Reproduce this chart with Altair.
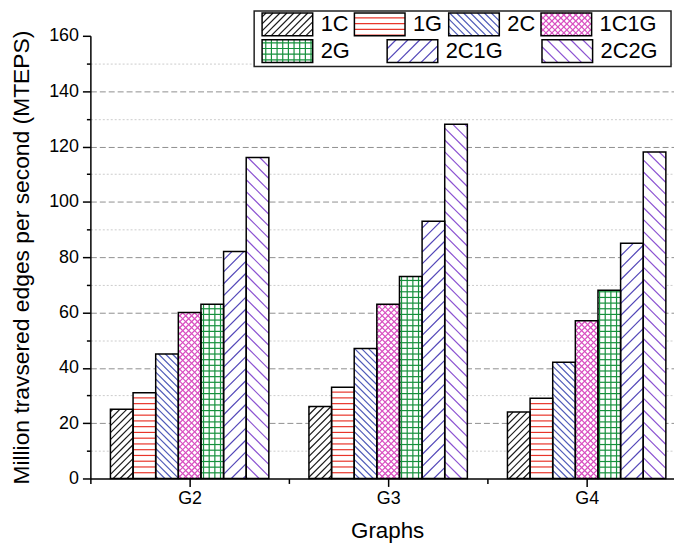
import json
import altair as alt
import numpy as np
import pandas as pd

# ---------------- data ----------------
groups = ["G2", "G3", "G4"]
series = ["1C", "1G", "2C", "1C1G", "2G", "2C1G", "2C2G"]
v_1C = [25, 26, 24]
v_1G = [31, 33, 29]
v_2C = [45, 47, 42]
v_1C1G = [60, 63, 57]
v_2G = [63, 73, 68]
v_2C1G = [82, 93, 85]
v_2C2G = [116, 128, 118]
series_values = [v_1C, v_1G, v_2C, v_1C1G, v_2G, v_2C1G, v_2C2G]

y_title = "Million travsered edges per second (MTEPS)"
x_title = "Graphs"

# ---------------- styles ----------------
series_colors = ["#1a1a1a", "#e8352a", "#4f5bb8", "#d84ec0", "#16903c", "#5246b8", "#8b52d1"]
series_pattern = ["fwd", "horiz", "back", "cross", "grid", "fwd", "back"]
series_spacing = [7, 5.8, 7, 6, 5.7, 12, 12]

FONT = "Liberation Sans"
W, H = 588, 446
XD = [0.5, 3.44]
YD = [0, 160]
KX = W / (XD[1] - XD[0])
KY = H / (YD[1] - YD[0])
BAR_W = 0.114
PLOT_LEFT, PLOT_TOP = 90, 33  # page position of plot origin (legend layout only)


def to_px(x, y):
    return (x - XD[0]) * KX, (YD[1] - y) * KY


def to_data(sx, sy):
    return XD[0] + sx / KX, YD[1] - sy / KY


def hatch_segments(x0, x1, y0, y1, kind, s):
    segs = []

    def diag(sign):
        if sign > 0:
            cmin, cmax = x0 + y0, x1 + y1
        else:
            cmin, cmax = x0 - y1, x1 - y0
        c = np.ceil(cmin / s) * s
        while c <= cmax:
            if sign > 0:
                a = max(x0, c - y1)
                b = min(x1, c - y0)
                if b - a > 0.3:
                    segs.append((a, c - a, b, c - b))
            else:
                a = max(x0, c + y0)
                b = min(x1, c + y1)
                if b - a > 0.3:
                    segs.append((a, a - c, b, b - c))
            c += s

    if kind in ("fwd", "cross"):
        diag(1)
    if kind in ("back", "cross"):
        diag(-1)
    if kind in ("horiz", "grid"):
        k = 1
        while True:
            yy = H - k * s
            if yy <= y0 + 0.5:
                break
            if yy < y1 - 0.5:
                segs.append((x0, yy, x1, yy))
            k += 1
    if kind == "grid":
        xx = np.ceil(x0 / s) * s
        while xx < x1:
            if xx > x0 + 0.5 and xx < x1 - 0.5:
                segs.append((xx, y0, xx, y1))
            xx += s
    return segs


def seg_rows(segs):
    rows = []
    for a, sa, b, sb in segs:
        xa, ya = to_data(a, sa)
        xb, yb = to_data(b, sb)
        rows.append({"x": xa, "y": ya, "x2": xb, "y2": yb})
    return rows


# legend layout (page pixels)
LEG_BOX = (255, 675, 8, 64)
LEG_ROWS = [(10, 33), (37, 60)]
LEG_ITEMS = [(263, 0), (356, 0), (451, 0), (544, 0), (263, 1), (389, 1), (545, 1)]
SW_W = 51
LABEL_GAP = 8

bar_rows, sw_rows, lab_rows = [], [], []
hatch_by_series = []
for j, s in enumerate(series):
    rows = []
    for gi, g in enumerate(groups):
        v = series_values[j][gi]
        x0 = (gi + 1) + (j - 3.5) * BAR_W
        x1 = x0 + BAR_W
        bar_rows.append({"group": g, "series": s, "x": x0, "x2": x1, "y": v, "y2": 0})
        sx0, sy0 = to_px(x0, v)
        sx1, sy1 = to_px(x1, 0)
        rows += seg_rows(hatch_segments(sx0, sx1, sy0, sy1, series_pattern[j], series_spacing[j]))
    # legend swatch
    px, row = LEG_ITEMS[j]
    top, bot = LEG_ROWS[row]
    sx0, sx1 = px - PLOT_LEFT, px + SW_W - PLOT_LEFT
    sy0, sy1 = top - PLOT_TOP, bot - PLOT_TOP
    xa, ya = to_data(sx0, sy0)
    xb, yb = to_data(sx1, sy1)
    sw_rows.append({"series": s, "x": xa, "x2": xb, "y": ya, "y2": yb})
    rows += seg_rows(hatch_segments(sx0, sx1, sy0, sy1, series_pattern[j], series_spacing[j]))
    lx, ly = to_data(sx1 + LABEL_GAP, (sy0 + sy1) / 2)
    lab_rows.append({"x": lx, "y": ly, "label": s})
    df = pd.DataFrame(rows)
    df["series"] = s
    hatch_by_series.append(df)

bars_df = pd.DataFrame(bar_rows)
sw_df = pd.DataFrame(sw_rows)
lab_df = pd.DataFrame(lab_rows)
bx0, by0 = to_data(LEG_BOX[0] - PLOT_LEFT, LEG_BOX[2] - PLOT_TOP)
bx1, by1 = to_data(LEG_BOX[1] - PLOT_LEFT, LEG_BOX[3] - PLOT_TOP)
legbox_df = pd.DataFrame([{"x": bx0, "x2": bx1, "y": by0, "y2": by1}])

# ---------------- chart ----------------
xs = alt.Scale(domain=XD, nice=False, zero=False)
ys = alt.Scale(domain=YD, nice=False, zero=False)

label_list = json.dumps(groups)
x_axis = alt.Axis(
    values=[0.5, 1, 1.5, 2, 2.5, 3],
    labelExpr=f"datum.value % 1 == 0 ? {label_list}[datum.value - 1] : ''",
    tickSize={"condition": {"test": "datum.value % 1 == 0", "value": 8}, "value": 5},
    tickColor="black", tickWidth=1.5,
    domainColor="black", domainWidth=1.5,
    grid=False, labelOverlap=False, labelFlush=False,
    labelFont=FONT, labelFontSize=18, labelColor="black", labelPadding=3,
    title=x_title, titleFont=FONT, titleFontSize=22.5, titleFontWeight="normal",
    titleColor="black", titlePadding=12, titleX=299,
)
y_axis = alt.Axis(
    values=list(range(0, 161, 10)),
    labelExpr="datum.value % 20 == 0 ? datum.label : ''",
    tickSize={"condition": {"test": "datum.value % 20 == 0", "value": 8}, "value": 4},
    tickColor="black", tickWidth=1.5,
    domainColor="black", domainWidth=1.5,
    grid=True,
    gridColor={"condition": {"test": "datum.value % 20 == 0", "value": "#8f8f8f"}, "value": "#cccccc"},
    gridDash={"condition": {"test": "datum.value % 20 == 0", "value": [6, 3]}, "value": [2, 2]},
    gridOpacity={"condition": {"test": "datum.value == 0 || datum.value == 160", "value": 0}, "value": 1},
    gridWidth=1,
    labelOverlap=False,
    labelFont=FONT, labelFontSize=18, labelColor="black", labelPadding=4,
    title=y_title, titleFont=FONT, titleFontSize=23, titleFontWeight="normal",
    titleColor="black", titlePadding=15,
)


def rect_enc(chart):
    return chart.encode(
        x=alt.X("x:Q", scale=xs, axis=x_axis),
        x2="x2:Q",
        y=alt.Y("y:Q", scale=ys, axis=y_axis),
        y2="y2:Q",
    )


layers = []
layers.append(rect_enc(alt.Chart(bars_df).mark_rect(fill="white", strokeWidth=0)))
layers.append(rect_enc(alt.Chart(legbox_df).mark_rect(fill="white", stroke="#222222", strokeWidth=1.5)))
layers.append(rect_enc(alt.Chart(sw_df).mark_rect(fill="white", strokeWidth=0)))
for j, s in enumerate(series):
    layers.append(
        rect_enc(alt.Chart(hatch_by_series[j]).mark_rule(stroke=series_colors[j], strokeWidth=1.2))
    )
layers.append(rect_enc(alt.Chart(bars_df).mark_rect(fillOpacity=0, stroke="black", strokeWidth=1.5)))
layers.append(rect_enc(alt.Chart(sw_df).mark_rect(fillOpacity=0, stroke="black", strokeWidth=1.5)))
layers.append(
    alt.Chart(lab_df)
    .mark_text(align="left", baseline="middle", font=FONT, fontSize=22, color="black")
    .encode(
        x=alt.X("x:Q", scale=xs, axis=x_axis),
        y=alt.Y("y:Q", scale=ys, axis=y_axis),
        text="label:N",
    )
)

chart = (
    alt.layer(*layers)
    .properties(
        width=W, height=H,
        padding={"left": 2, "top": 0, "right": 0, "bottom": 0},
        background="white",
    )
    .configure_view(stroke="transparent")
)

chart.save("out.html", embed_options={"renderer": "svg", "actions": False})
